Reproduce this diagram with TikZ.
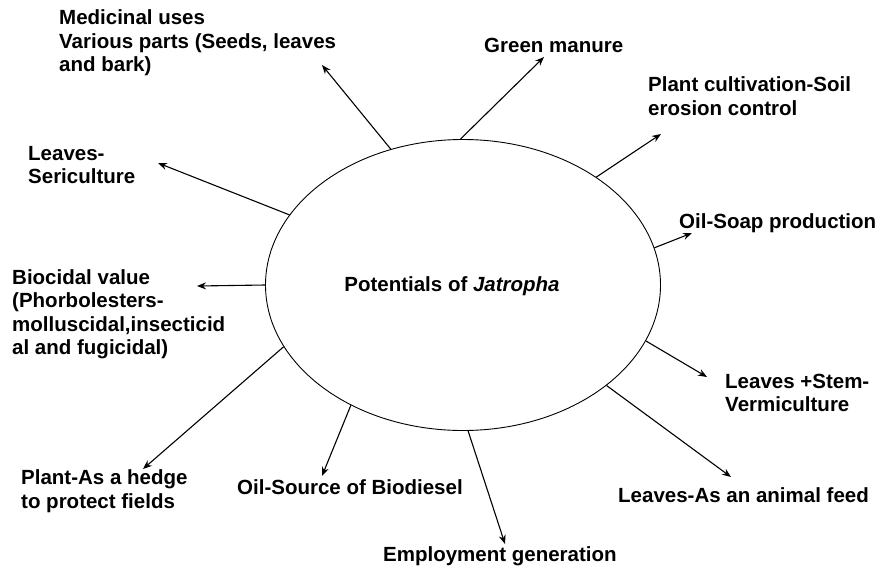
\documentclass[tikz,border=0pt]{standalone}
\usepackage{fontspec}
\setmainfont{Liberation Sans}
\usetikzlibrary{shapes.geometric,arrows.meta}

\tikzset{
  lbl/.style={anchor=west, align=left, inner sep=0pt, font=\fontsize{20.5}{23.5}\selectfont\bfseries},
  arr/.style={line width=1.1pt, -{Stealth[length=9pt,width=7pt]}},
}

\begin{document}
\begin{tikzpicture}[x=1pt,y=-1pt]
	\useasboundingbox (0,0) rectangle (876,566);
	\node [draw, ellipse, line width=0.9pt, minimum width=395pt, minimum height=291pt, inner sep=0pt] (ell) at (463,285) {};
	\node [lbl, anchor=center] (title) at (452,286) {Potentials of \textit{Jatropha}};

	% labels round the ellipse
	\node [lbl] (med) at (59,43) {Medicinal uses\\Various parts (Seeds, leaves\\and bark)};
	\node [lbl] (seri) at (28,165) {Leaves-\\Sericulture};
	\node [lbl] (bio) at (12,314) {Biocidal value\\(Phorbolesters-\\molluscidal,insecticid\\al and fugicidal)};
	\node [lbl] (hedge) at (21,491) {Plant-As a hedge\\to protect fields};
	\node [lbl] (oilsrc) at (237,487) {Oil-Source of Biodiesel};
	\node [lbl] (emp) at (383,556) {Employment generation};
	\node [lbl] (feed) at (618,495) {Leaves-As an animal feed};
	\node [lbl] (stem) at (725,393) {Leaves +Stem-\\Vermiculture};
	\node [lbl] (soap) at (679,223) {Oil-Soap production};
	\node [lbl] (cult) at (648,96) {Plant cultivation-Soil\\erosion control};
	\node [lbl] (green) at (484,45) {Green manure};

	% arrow tips
	\coordinate (t1) at (322,65);
	\coordinate (t2) at (158,163);
	\coordinate (t3) at (197,286);
	\coordinate (t4) at (143,469);
	\coordinate (t5) at (322,476);
	\coordinate (t6) at (505,544);
	\coordinate (t7) at (731,477);
	\coordinate (t8) at (707,377);
	\coordinate (t9) at (692,233);
	\coordinate (t10) at (661,134);
	\coordinate (t11) at (544,57);

	\draw [arr] (ell.118.4) -- (t1);
	\draw [arr] (ell.158.9) -- (t2);
	\draw [arr] (ell.180.3) -- (t3);
	\draw [arr] (ell.199.2) -- (t4);
	\draw [arr] (ell.227.9) -- (t5);
	\draw [arr] (ell.272) -- (t6);
	\draw [arr] (ell.325.1) -- (t7);
	\draw [arr] (ell.343.1) -- (t8);
	\draw [arr] (ell.11) -- (t9);
	\draw [arr] (ell.39.6) -- (t10);
	\draw [arr] (ell.91.6) -- (t11);
\end{tikzpicture}
\end{document}
